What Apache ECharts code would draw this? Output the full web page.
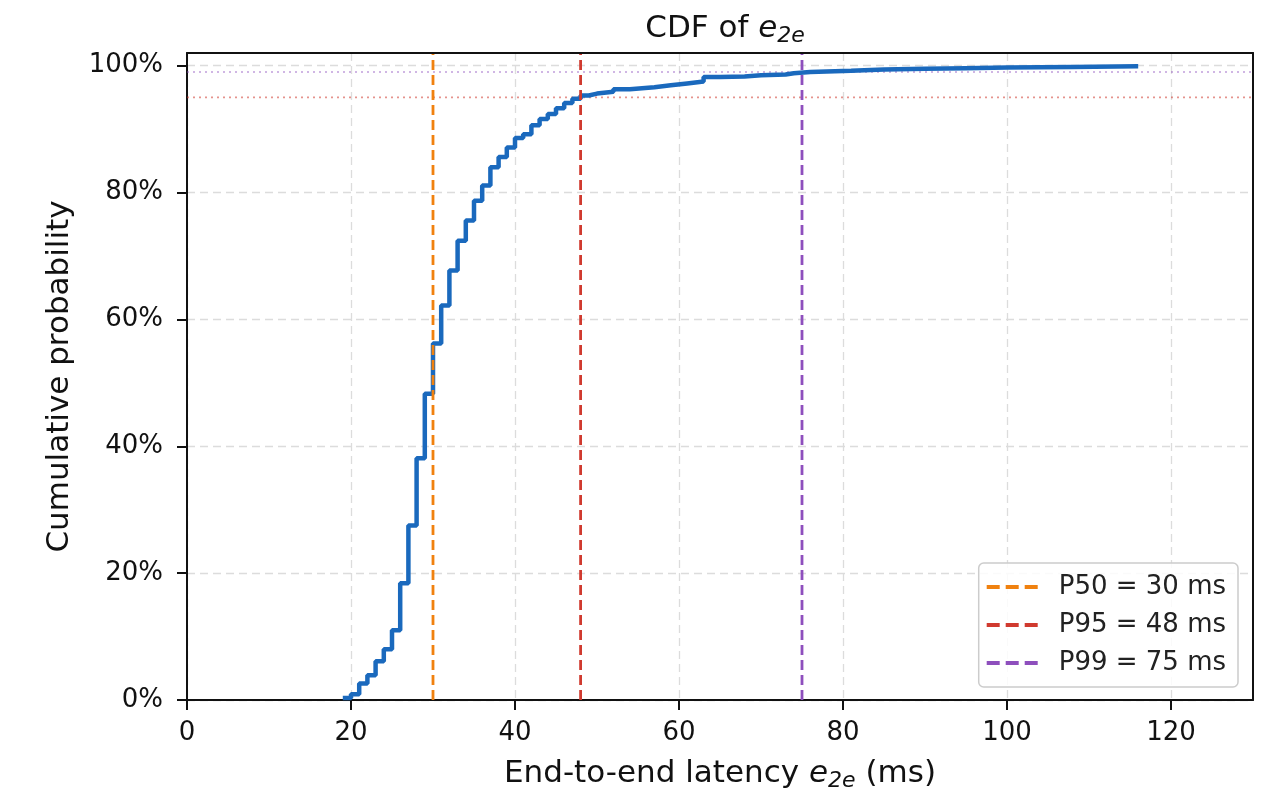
<!DOCTYPE html>
<html>
<head>
<meta charset="utf-8">
<script src="https://cdn.jsdelivr.net/npm/echarts@6/dist/echarts.min.js"></script>
<style>
  html, body { margin: 0; padding: 0; background: #fff; }
  #chartContainer { width: 1261px; height: 800px; }
</style>
</head>
<body>
<div id="chartContainer"></div>
<script>
// latency steps (ms) and cumulative probability after each step
var latencyMs = [19, 20, 21, 22, 23, 24, 25, 26, 27, 28, 29, 30, 31, 32, 33, 34, 35, 36, 37, 38, 39, 40,
  41, 42, 43, 44, 45, 46, 47, 48, 49, 50, 52, 54, 57, 59, 61, 63, 65, 68, 70, 73, 74, 76, 78, 81, 85, 90,
  95, 100, 108, 116];
var cumProb = [0.003, 0.009, 0.026, 0.039, 0.061, 0.080, 0.110, 0.184, 0.275, 0.381, 0.483, 0.562, 0.622,
  0.677, 0.724, 0.756, 0.787, 0.811, 0.840, 0.856, 0.871, 0.886, 0.892, 0.906, 0.916, 0.924, 0.933, 0.941,
  0.948, 0.953, 0.956, 0.959, 0.963, 0.966, 0.969, 0.972, 0.975, 0.982, 0.983, 0.985, 0.986, 0.988, 0.990,
  0.991, 0.992, 0.994, 0.995, 0.996, 0.997, 0.998, 0.999, 1.0];

var percentileNames = ["P50 = 30 ms", "P95 = 48 ms", "P99 = 75 ms"];
var percentileValues = [30, 48, 75];
var percentileLevels = [0.5, 0.95, 0.99];
var percentileColors = ["#f0810f", "#d03a2f", "#8e4fbd"];

var FONT = "DejaVu Sans";
var CHART;

// three short dashes, used as legend icon
var DASH_ICON = "path://M0,0h13v4h-13zM19,0h13v4h-13zM38,0h13v4h-13z";

window.onload = (_) => {
  CHART = echarts.init(document.getElementById("chartContainer"), null, { renderer: "canvas" });

  var rich = {
    i: { fontFamily: FONT, fontSize: 31, fontStyle: "italic", color: "#111" },
    sub: { fontFamily: FONT, fontSize: 22, fontStyle: "italic", color: "#111", padding: [14, 0, 0, 0] },
  };

  var series = [];
  series.push({
    name: "CDF",
    type: "line",
    step: "end",
    showSymbol: false,
    symbol: "none",
    data: latencyMs.map((x, i) => [x, cumProb[i]]),
    lineStyle: { color: "#1a69bd", width: 4.5 },
    z: 3,
  });

  // faint dotted horizontal guides at P95 / P99 levels
  for (let i = 1; i < 3; i++) {
    series.push({
      name: "h" + i,
      type: "line",
      showSymbol: false,
      symbol: "none",
      silent: true,
      data: [[0, percentileLevels[i]], [130, percentileLevels[i]]],
      lineStyle: { color: percentileColors[i], width: 1.6, type: [2, 4], opacity: 0.55 },
      z: 2,
    });
  }

  // vertical dashed percentile lines
  for (let i = 0; i < 3; i++) {
    series.push({
      name: percentileNames[i],
      type: "line",
      showSymbol: false,
      symbol: "none",
      data: [[percentileValues[i], 0], [percentileValues[i], 1.02]],
      itemStyle: { color: percentileColors[i] },
      lineStyle: { color: percentileColors[i], width: 2.8, type: [10, 5] },
      z: 4,
    });
  }

  var option = {
    animation: false,
    backgroundColor: "#ffffff",
    textStyle: { fontFamily: FONT },
    title: {
      text: "CDF of {i|e}{sub|2e}",
      left: 720,
      textAlign: "center",
      top: 6,
      textStyle: {
        fontFamily: FONT,
        fontSize: 31,
        fontWeight: "normal",
        color: "#111",
        rich: rich,
      },
    },
    grid: {
      left: 187,
      right: 8,
      top: 53,
      bottom: 100,
      containLabel: false,
    },
    legend: {
      data: percentileNames.map((n) => ({ name: n, icon: DASH_ICON })),
      orient: "vertical",
      right: 23,
      bottom: 113,
      itemWidth: 51,
      itemHeight: 4,
      itemGap: 12,
      padding: [11, 12, 11, 8],
      backgroundColor: "rgba(255,255,255,0.85)",
      borderColor: "#cccccc",
      borderWidth: 1.5,
      borderRadius: 5,
      textStyle: { fontFamily: FONT, fontSize: 26, color: "#222", padding: [0, 0, 0, 16] },
    },
    xAxis: [
      {
        type: "value",
        min: 0,
        max: 130,
        interval: 20,
        name: "End-to-end latency {i|e}{sub|2e} (ms)",
        nameLocation: "middle",
        nameGap: 56,
        nameTextStyle: { fontFamily: FONT, fontSize: 31, color: "#111", rich: rich },
        axisLine: { show: true, onZero: false, lineStyle: { color: "#111", width: 2 } },
        axisTick: { show: true, length: 10, inside: false, lineStyle: { color: "#111", width: 2 } },
        axisLabel: { showMaxLabel: false, fontFamily: FONT, fontSize: 26, color: "#111", margin: 20 },
        splitLine: { show: true, showMaxLine: false, lineStyle: { color: "#dcdcdc", width: 1.3, type: [8, 5] } },
      },
      {
        type: "value",
        position: "top",
        min: 0,
        max: 130,
        z: 6,
        axisLine: { show: true, onZero: false, lineStyle: { color: "#111", width: 2 } },
        axisTick: { show: false },
        axisLabel: { show: false },
        splitLine: { show: false },
      },
    ],
    yAxis: [
      {
        type: "value",
        min: 0,
        max: 1.02,
        interval: 0.2,
        name: "Cumulative probability",
        nameLocation: "middle",
        nameGap: 112,
        nameTextStyle: { fontFamily: FONT, fontSize: 31, color: "#111" },
        axisLine: { show: true, onZero: false, lineStyle: { color: "#111", width: 2 } },
        axisTick: { show: true, length: 10, inside: false, lineStyle: { color: "#111", width: 2 } },
        axisLabel: {
          showMaxLabel: false,
          fontFamily: FONT,
          fontSize: 26,
          color: "#111",
          margin: 24,
          formatter: (v) => Math.round(v * 100) + "%",
        },
        splitLine: { show: true, showMaxLine: false, lineStyle: { color: "#dcdcdc", width: 1.3, type: [8, 5] } },
      },
      {
        type: "value",
        position: "right",
        min: 0,
        max: 1.02,
        z: 6,
        axisLine: { show: true, onZero: false, lineStyle: { color: "#111", width: 2 } },
        axisTick: { show: false },
        axisLabel: { show: false },
        splitLine: { show: false },
      },
    ],
    series: series,
  };
  CHART.setOption(option);
};
</script>
</body>
</html>
